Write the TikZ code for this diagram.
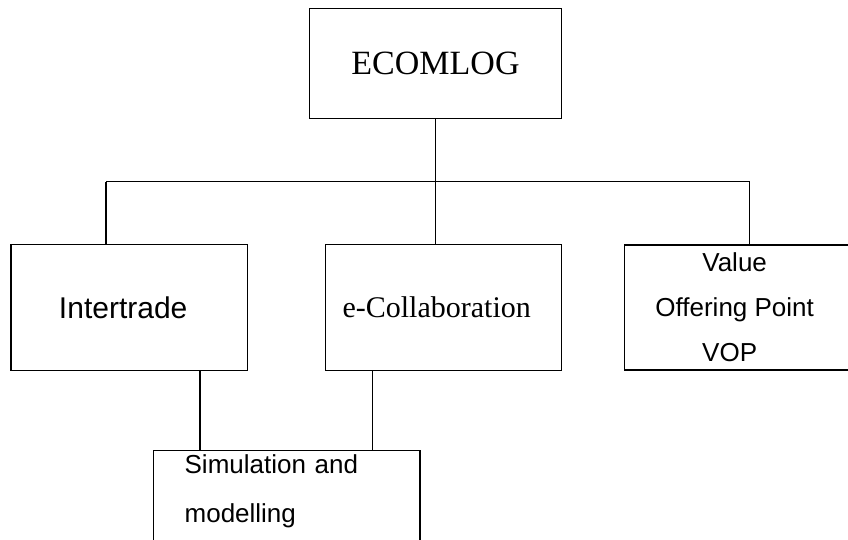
\documentclass[tikz,border=0pt]{standalone}
\usepackage{fontspec}
\setmainfont{Liberation Serif}
\newfontfamily\arialfont{Liberation Sans}
\begin{document}
\begin{tikzpicture}[x=1pt,y=-1pt,
  box/.style={draw=black, line width=1.3pt, rectangle, inner sep=0pt},
  wire/.style={draw=black, line width=1.2pt},
  serifbig/.style={font=\fontsize{34}{40}\selectfont},
  serifmid/.style={font=\fontsize{30}{36}\selectfont},
  sansmid/.style={font=\arialfont\fontsize{30}{36}\selectfont},
  sanssmall/.style={font=\arialfont\fontsize{26}{45}\selectfont}]
\useasboundingbox (0,0) rectangle (848,539);
\clip (0,0) rectangle (848,539);

% top level
\node[box, serifbig, minimum width=252.4pt, minimum height=110pt] (eco) at (435.5,63.3) {ECOMLOG};

% second level
\node[box, sansmid, minimum width=236.3pt, minimum height=126pt] (it) at (129.2,307.7) {Intertrade\hspace*{12pt}};
\node[box, serifmid, minimum width=236pt, minimum height=126pt] (ecol) at (443.7,307.7) {e-Collaboration\hspace*{14pt}};
% this box runs on past the right margin; its text sits in the visible part
\node[box, sanssmall, anchor=west, minimum height=125pt] (vop) at (624,307.5)
  {\makebox[252pt][l]{\parbox{220pt}{\centering Value\\Offering Point\\VOP\hspace*{10pt}}}};

% third level, running on past the bottom margin
\node[box, font=\arialfont\fontsize{26}{49}\selectfont, align=left, anchor=north west,
      text width=204pt, inner xsep=31.3pt, inner ysep=0pt,
      text height=23pt, text depth=77pt] (sim) at (152.7,450) {Simulation and\\modelling};

% branching bus
\coordinate (busL) at (106,181.7);
\coordinate (busR) at (749.7,181.7);
\draw[wire] (busL) -- (busR);
\draw[wire] (eco.south) -- (eco.south |- ecol.north);
\draw[wire] (busL) -- (busL |- it.north);
\draw[wire] (busR) -- (busR |- vop.north);

% links down to the simulation box
\coordinate (jA) at (200,0);
\coordinate (jB) at (372.7,0);
\draw[wire] (jA |- it.south) -- (jA |- sim.north);
\draw[wire] (jB |- ecol.south) -- (jB |- sim.north);
\end{tikzpicture}
\end{document}
